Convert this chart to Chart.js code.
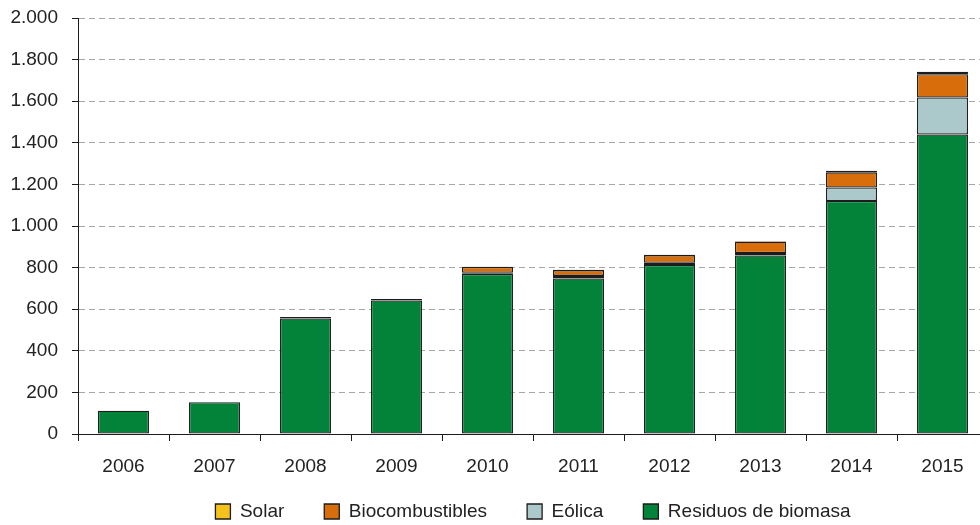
<!DOCTYPE html>
<html>
<head>
<meta charset="utf-8">
<script src="https://cdn.jsdelivr.net/npm/chart.js@4/dist/chart.umd.min.js"></script>
<style>
  html, body { margin: 0; padding: 0; background: #fff; overflow: hidden; }
  #wrap { width: 990px; height: 525px; }
</style>
</head>
<body>
<div id="wrap"><canvas id="chart"></canvas></div>
<script>
const years = ['2006', '2007', '2008', '2009', '2010', '2011', '2012', '2013', '2014', '2015'];
// null = no segment for that year
const residuos = [112, 153, 555, 642, 770, 748, 813, 858, 1120, 1440];
const eolica = [null, null, 3, 2, 5, 12, 10, 12, 65, 178];
const biocombustibles = [null, null, 5, 5, 28, 28, 37, 55, 73, 112];
const solar = [null, null, null, null, 1, 2, 2, 2, 8, 12];
const yTicks = [0, 200, 400, 600, 800, 1000, 1200, 1400, 1600, 1800, 2000];

const ink = '#1c1c1c';
const font = { family: "'Liberation Sans', Arial, sans-serif", size: 19 };

function fmt(v) {
    return v.toString().replace(/\B(?=(\d{3})+(?!\d))/g, '.');
}

function series(label, data, color) {
    return { label, data, backgroundColor: color, borderColor: ink, borderWidth: 1.3, borderSkipped: false,
             barPercentage: 0.56, categoryPercentage: 1 };
}

// legend needs wide item spacing but sits close under the axis labels
const legendNudge = {
    id: 'legendNudge',
    afterLayout(chart) {
        chart.legend.top -= 18;
        chart.legend.bottom -= 18;
    }
};

Chart.defaults.font = font;
Chart.defaults.color = '#2a2a2a';

new Chart(document.getElementById('chart').getContext('2d'), {
    type: 'bar',
    data: {
        labels: years,
        datasets: [
            series('Residuos de biomasa', residuos, '#03833a'),
            series('Eólica', eolica, '#abc9ca'),
            series('Biocombustibles', biocombustibles, '#d76d0b'),
            series('Solar', solar, '#f4c21a')
        ]
    },
    plugins: [legendNudge],
    options: {
        responsive: true,
        maintainAspectRatio: false,
        animation: false,
        layout: { padding: { top: 0, right: 2, bottom: -24, left: 0 } },
        plugins: {
            tooltip: { enabled: false },
            legend: {
                position: 'bottom',
                fullSize: false,
                reverse: true,
                labels: { boxWidth: 15, boxHeight: 15, padding: 40, color: '#222', font }
            }
        },
        scales: {
            x: {
                stacked: true,
                border: { color: ink, width: 1 },
                grid: { offset: true, drawOnChartArea: false, drawTicks: true, tickLength: 7, tickColor: ink },
                ticks: { padding: 14, color: '#222' },
                afterFit: s => { s.height = 46; }
            },
            y: {
                stacked: true,
                min: 0,
                max: 2000,
                afterBuildTicks: s => { s.ticks = yTicks.map(v => ({ value: v })); },
                border: { color: ink, width: 1, dash: [6, 4] },
                grid: { color: '#a6a6a6', tickColor: ink, tickLength: 6, tickBorderDash: [] },
                ticks: { padding: 14, color: '#222', callback: v => fmt(v) },
                afterFit: s => { s.width = 78; s.paddingTop = 18; }
            }
        }
    }
});
</script>
</body>
</html>
